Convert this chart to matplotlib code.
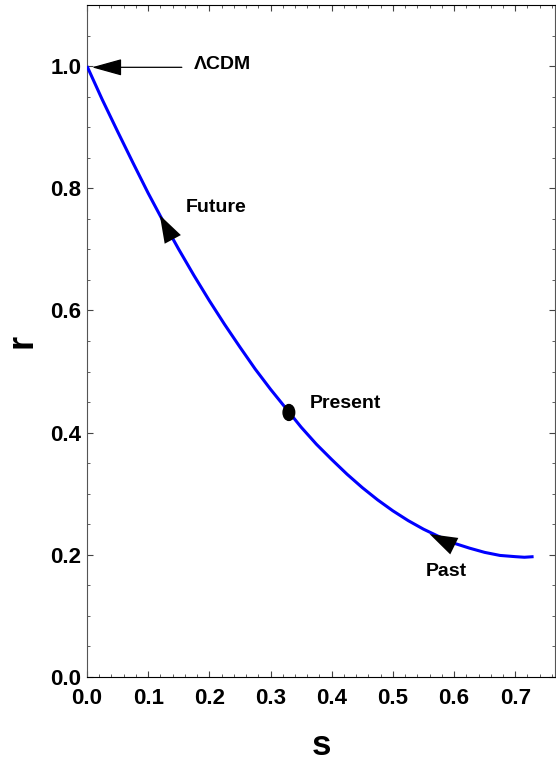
import matplotlib
matplotlib.use("Agg")
import matplotlib.pyplot as plt
from matplotlib.patches import Ellipse
from matplotlib.ticker import MultipleLocator

plt.rcParams['font.family'] = ['Liberation Sans', 'DejaVu Sans']
plt.rcParams['font.weight'] = 'bold'

# curve (s, r)
s = [0.0, 0.025, 0.05, 0.075, 0.1, 0.125, 0.15, 0.175, 0.2, 0.225, 0.25, 0.275,
     0.3, 0.325, 0.35, 0.375, 0.4, 0.425, 0.45, 0.475, 0.5, 0.525, 0.55, 0.575,
     0.6, 0.625, 0.65, 0.675, 0.7, 0.715, 0.73]
r = [1.0, 0.945, 0.893, 0.842, 0.792, 0.745, 0.700, 0.657, 0.616, 0.577, 0.540, 0.504,
     0.471, 0.440, 0.409, 0.381, 0.356, 0.332, 0.310, 0.290, 0.272, 0.256, 0.242, 0.230,
     0.219, 0.211, 0.204, 0.199, 0.197, 0.196, 0.197]

present = (0.33, 0.433)
lcdm = (0.0, 1.0)

fig = plt.figure(figsize=(5.56, 7.64), dpi=100)
ax = fig.add_axes([87/556, 87/764, 468/556, 672/764])

ax.plot(s, r, color=(0, 0, 1), lw=2.2, solid_capstyle='butt', zorder=3)

ax.add_patch(Ellipse(present, 0.019, 0.026, color='k', zorder=4))

# direction arrowheads on the curve (shaft hidden, only the head shows)
head = dict(arrowstyle='-|>,head_length=0.9,head_width=0.3', color='k',
            lw=0, shrinkA=0, shrinkB=0, mutation_scale=22)
ax.annotate('', xy=(0.119, 0.756), xytext=(0.15, 0.698), arrowprops=head, zorder=5)
ax.annotate('', xy=(0.56, 0.234), xytext=(0.619, 0.205), arrowprops=head, zorder=5)
ax.annotate('', xy=(lcdm[0] + 0.008, lcdm[1] - 0.002), xytext=(0.155, 0.998),
            arrowprops=dict(arrowstyle='-|>,head_length=0.9,head_width=0.25',
                            color='k', lw=0.9, shrinkA=0, shrinkB=0,
                            mutation_scale=21), zorder=5)

ax.text(0.222, 1.003, 'ΛCDM', fontsize=14, fontweight='bold', ha='center', va='center')
ax.text(0.211, 0.769, 'Future', fontsize=14, fontweight='bold', ha='center', va='center')
ax.text(0.423, 0.447, 'Present', fontsize=14, fontweight='bold', ha='center', va='center')
ax.text(0.587, 0.172, 'Past', fontsize=14, fontweight='bold', ha='center', va='center')

ax.set_xlim(0, 0.765)
ax.set_ylim(0, 1.1)
ax.xaxis.set_major_locator(MultipleLocator(0.1))
ax.xaxis.set_minor_locator(MultipleLocator(0.02))
ax.yaxis.set_major_locator(MultipleLocator(0.2))
ax.yaxis.set_minor_locator(MultipleLocator(0.05))
ax.xaxis.set_major_formatter(plt.FormatStrFormatter('%.1f'))
ax.yaxis.set_major_formatter(plt.FormatStrFormatter('%.1f'))

ax.tick_params(which='both', direction='in', top=True, right=True, color='#444444')
ax.tick_params(which='major', length=4.5, width=0.8, labelsize=16)
ax.tick_params(which='minor', length=2.5, width=0.6)
ax.tick_params(axis='x', which='major', pad=8)
ax.tick_params(axis='y', which='major', pad=4)
for lab in ax.get_xticklabels() + ax.get_yticklabels():
    lab.set_fontweight('bold')
for side in ['left', 'right']:
    ax.spines[side].set_color('#555555')
for side in ['top', 'bottom']:
    ax.spines[side].set_color('black')

ax.set_xlabel('s', fontsize=25, fontweight='bold', labelpad=14)
ax.set_ylabel('r', fontsize=26, fontweight='bold', labelpad=8)

fig.savefig('out.png', dpi=100)
